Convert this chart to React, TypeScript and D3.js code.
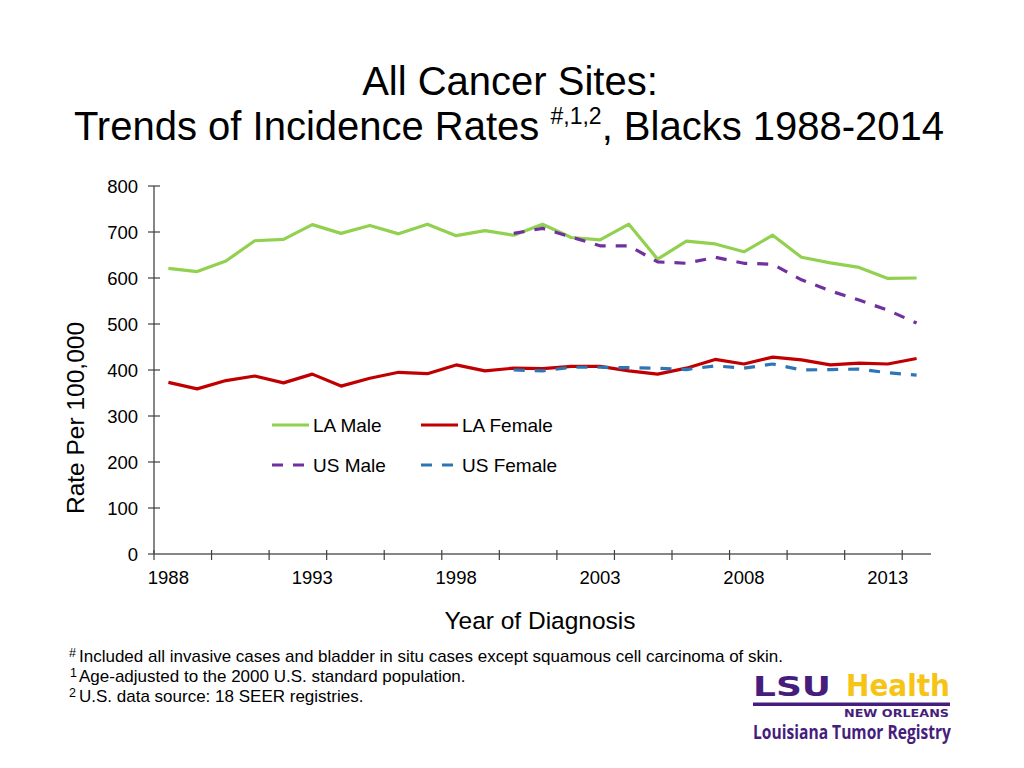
import React from "react";
import * as d3 from "d3";

const years: number[] = [1988, 1989, 1990, 1991, 1992, 1993, 1994, 1995, 1996, 1997, 1998, 1999, 2000, 2001, 2002, 2003, 2004, 2005, 2006, 2007, 2008, 2009, 2010, 2011, 2012, 2013, 2014];
const laMale: (number | null)[] = [621, 614, 637, 681, 684, 716, 697, 714, 696, 717, 692, 703, 693, 717, 688, 683, 717, 641, 680, 674, 657, 693, 645, 633, 623, 599, 600];
const laFemale: (number | null)[] = [373, 359, 377, 387, 372, 391, 365, 382, 395, 392, 411, 398, 404, 403, 408, 408, 398, 391, 404, 423, 413, 428, 422, 411, 415, 413, 425];
const usMale: (number | null)[] = [null, null, null, null, null, null, null, null, null, null, null, null, 697, 708, 689, 670, 670, 635, 632, 645, 632, 630, 596, 572, 552, 530, 502];
const usFemale: (number | null)[] = [null, null, null, null, null, null, null, null, null, null, null, null, 400, 398, 406, 406, 405, 404, 401, 409, 404, 413, 400, 401, 402, 394, 389];
const yTicks: number[] = [0, 100, 200, 300, 400, 500, 600, 700, 800];
const xLabelYears: number[] = [1988, 1993, 1998, 2003, 2008, 2013];

const FONT = "'Liberation Sans', Arial, sans-serif";

const seriesDefs = [
  { name: "LA Male", values: laMale, color: "#92D050", dash: null as string | null },
  { name: "LA Female", values: laFemale, color: "#C00000", dash: null as string | null },
  { name: "US Male", values: usMale, color: "#7030A0", dash: "11,10" },
  { name: "US Female", values: usFemale, color: "#2E75B6", dash: "11,10" },
];

export default function App() {
  const x = d3.scaleBand<number>().domain(years).range([154, 931]).padding(0);
  const y = d3.scaleLinear().domain([0, 800]).range([554, 186]);
  const cx = (yr: number) => (x(yr) as number) + x.bandwidth() / 2;

  const line = d3
    .line<number | null>()
    .defined((d) => d !== null)
    .x((_, i) => cx(years[i]))
    .y((d) => y(d as number));

  const xTickPositions = years.filter((_, i) => i % 2 === 0).map((yr) => x(yr) as number);

  const legendItems = [
    { s: seriesDefs[0], lx: 272, ly: 425 },
    { s: seriesDefs[1], lx: 421, ly: 425 },
    { s: seriesDefs[2], lx: 272, ly: 465 },
    { s: seriesDefs[3], lx: 421, ly: 465 },
  ];

  return (
    <svg
      width={1024}
      height={768}
      style={{ position: "absolute", left: 0, top: 0, background: "#fff" }}
      fontFamily={FONT}
    >
      <rect x={0} y={0} width={1024} height={768} fill="#fff" />
      {/* Title */}
      <text x={510} y={95} textAnchor="middle" fontSize={40} fill="#000">
        All Cancer Sites:
      </text>
      <text x={509} y={140} textAnchor="middle" fontSize={40} fill="#000">
        {"Trends of Incidence Rates "}
        <tspan fontSize={23} dy={-16}>#,1,2</tspan>
        <tspan fontSize={40} dy={16}>, Blacks 1988-2014</tspan>
      </text>

      {/* Y axis */}
      <line x1={154} x2={154} y1={y(800)} y2={y(0)} stroke="#868686" strokeWidth={2} />
      {yTicks.map((t) => (
        <g key={t}>
          <line x1={148} x2={160} y1={y(t)} y2={y(t)} stroke="#404040" strokeWidth={1.2} />
          <text x={138} y={y(t) + 6.5} textAnchor="end" fontSize={18.5} fill="#000">
            {t}
          </text>
        </g>
      ))}

      {/* X axis */}
      <line x1={154} x2={931} y1={y(0)} y2={y(0)} stroke="#868686" strokeWidth={2} />
      {xTickPositions.map((p, i) => (
        <line key={i} x1={p} x2={p} y1={y(0) - 4} y2={y(0) + 6} stroke="#404040" strokeWidth={1.2} />
      ))}
      {xLabelYears.map((yr) => (
        <text key={yr} x={cx(yr)} y={584} textAnchor="middle" fontSize={18.5} fill="#000">
          {yr}
        </text>
      ))}

      {/* Axis titles */}
      <text x={540} y={629} textAnchor="middle" fontSize={24.5} fill="#000">
        Year of Diagnosis
      </text>
      <text
        transform={`translate(84,418) rotate(-90)`}
        textAnchor="middle"
        fontSize={24.5}
        fill="#000"
      >
        Rate Per 100,000
      </text>

      {/* Series */}
      {seriesDefs.map((s) => (
        <path
          key={s.name}
          d={line(s.values) || ""}
          fill="none"
          stroke={s.color}
          strokeWidth={3.2}
          strokeLinejoin="round"
          strokeDasharray={s.dash || undefined}
        />
      ))}

      {/* Legend */}
      {legendItems.map(({ s, lx, ly }) => (
        <g key={s.name}>
          <line
            x1={lx}
            x2={lx + 37}
            y1={ly}
            y2={ly}
            stroke={s.color}
            strokeWidth={3.2}
            strokeDasharray={s.dash || undefined}
          />
          <text x={lx + 41} y={ly + 7} fontSize={19} fill="#000">
            {s.name}
          </text>
        </g>
      ))}

      {/* Footnotes */}
      <text x={69} y={657} fontSize={12.5} fill="#000">#</text>
      <text x={79} y={662} fontSize={17} fill="#000">
        Included all invasive cases and bladder in situ cases except squamous cell carcinoma of skin.
      </text>
      <text x={70} y={677} fontSize={12.5} fill="#000">1</text>
      <text x={79} y={682} fontSize={17} fill="#000">
        Age-adjusted to the 2000 U.S. standard population.
      </text>
      <text x={69} y={697} fontSize={12.5} fill="#000">2</text>
      <text x={79} y={702} fontSize={17} fill="#000">
        U.S. data source: 18 SEER registries.
      </text>

      {/* Logo */}
      <text
        x={753}
        y={696}
        fontSize={26}
        fontWeight={900}
        fill="#461D7C"
        fontFamily="'DejaVu Sans', sans-serif"
        textLength={78}
        lengthAdjust="spacingAndGlyphs"
      >
        LSU
      </text>
      <text
        x={846}
        y={696}
        fontSize={30}
        fontWeight={700}
        fill="#F6C416"
        fontFamily="'DejaVu Sans', sans-serif"
        textLength={104}
        lengthAdjust="spacingAndGlyphs"
      >
        Health
      </text>
      <rect x={753} y={702.5} width={197} height={3.5} fill="#461D7C" />
      <text
        x={844}
        y={717}
        fontSize={10}
        fontWeight={700}
        fill="#461D7C"
        fontFamily="'DejaVu Sans', sans-serif"
        textLength={105}
        lengthAdjust="spacingAndGlyphs"
      >
        NEW ORLEANS
      </text>
      <text
        x={753}
        y={739}
        fontSize={19}
        fontWeight={700}
        fill="#461D7C"
        fontFamily="'Open Sans', 'DejaVu Sans', sans-serif"
        textLength={198}
        lengthAdjust="spacingAndGlyphs"
      >
        Louisiana Tumor Registry
      </text>
    </svg>
  );
}
